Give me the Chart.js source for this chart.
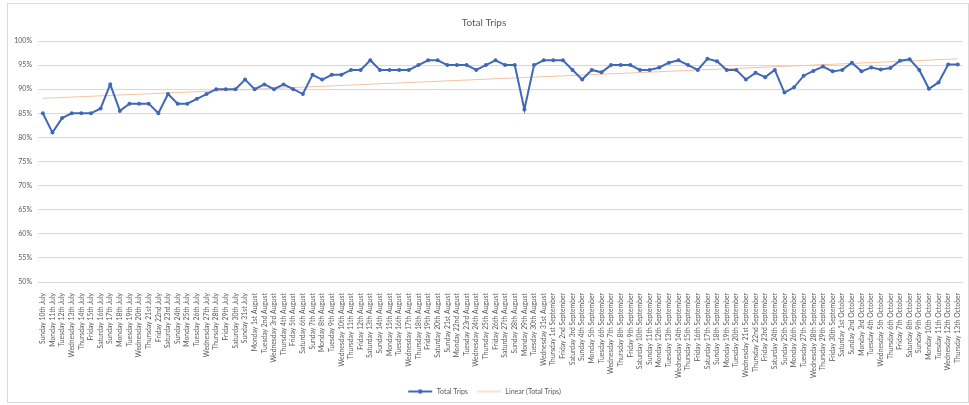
<!DOCTYPE html>
<html>
<head>
<meta charset="utf-8">
<script src="https://cdn.jsdelivr.net/npm/chart.js@4/dist/chart.umd.min.js"></script>
<style>
  html, body { margin: 0; padding: 0; background: #fff; }
  #wrap { position: relative; width: 969px; height: 405px; }
  #frame { position: absolute; left: 7px; top: 3px; width: 960px; height: 398px; border: 1px solid #d9d9d9; pointer-events: none; }
</style>
</head>
<body>
<div id="wrap">
  <canvas id="grafico" width="969" height="405"></canvas>
  <div id="frame"></div>
</div>
<script>
// categorias (dias)
const dias = [
  'Sunday 10th July','Monday 11th July','Tuesday 12th July','Wednesday 13th July','Thursday 14th July','Friday 15th July','Saturday 16th July',
  'Sunday 17th July','Monday 18th July','Tuesday 19th July','Wednesday 20th July','Thursday 21st July','Friday 22nd July','Saturday 23rd July',
  'Sunday 24th July','Monday 25th July','Tuesday 26th July','Wednesday 27th July','Thursday 28th July','Friday 29th July','Saturday 30th July',
  'Sunday 31st July','Monday 1st August','Tuesday 2nd August','Wednesday 3rd August','Thursday 4th August','Friday 5th August','Saturday 6th August',
  'Sunday 7th August','Monday 8th August','Tuesday 9th August','Wednesday 10th August','Thursday 11th August','Friday 12th August','Saturday 13th August',
  'Sunday 14th August','Monday 15th August','Tuesday 16th August','Wednesday 17th August','Thursday 18th August','Friday 19th August','Saturday 20th August',
  'Sunday 21st August','Monday 22nd August','Tuesday 23rd August','Wednesday 24th August','Thursday 25th August','Friday 26th August','Saturday 27th August',
  'Sunday 28th August','Monday 29th August','Tuesday 30th August','Wednesday 31st August','Thursday 1st September','Friday 2nd September','Saturday 3rd September',
  'Sunday 4th September','Monday 5th September','Tuesday 6th September','Wednesday 7th September','Thursday 8th September','Friday 9th September','Saturday 10th September',
  'Sunday 11th September','Monday 12th September','Tuesday 13th September','Wednesday 14th September','Thursday 15th September','Friday 16th September','Saturday 17th September',
  'Sunday 18th September','Monday 19th September','Tuesday 20th September','Wednesday 21st September','Thursday 22nd September','Friday 23rd September','Saturday 24th September',
  'Sunday 25th September','Monday 26th September','Tuesday 27th September','Wednesday 28th September','Thursday 29th September','Friday 30th September','Saturday 1st October',
  'Sunday 2nd October','Monday 3rd October','Tuesday 4th October','Wednesday 5th October','Thursday 6th October','Friday 7th October','Saturday 8th October',
  'Sunday 9th October','Monday 10th October','Tuesday 11th October','Wednesday 12th October','Thursday 13th October'
];

// Total Trips (%)
const totalTrips = [
  85, 81, 84, 85, 85, 85, 86, 91, 85.5, 87, 87, 87, 85, 89, 87, 87, 88, 89, 90, 90, 90, 92, 90, 91,
  90, 91, 90, 89, 93, 92, 93, 93, 94, 94, 96, 94, 94, 94, 94, 95, 96, 96, 95, 95, 95, 94, 95, 96,
  95, 95, 85.8, 95, 96, 96, 96, 94, 92, 94, 93.5, 95, 95, 95, 94, 94, 94.5, 95.5, 96, 95, 94, 96.3, 95.8, 94,
  94, 92, 93.4, 92.5, 94, 89.3, 90.4, 92.8, 93.8, 94.7, 93.7, 94, 95.5, 93.7, 94.5, 94.1, 94.4, 95.9, 96.2, 94, 90.1, 91.4, 95.1, 95.1
];

// Linear (Total Trips): valores lidos no início e no fim
const tendencia = [88.1, 96.3];

const yTicks = [50, 55, 60, 65, 70, 75, 80, 85, 90, 95, 100];

const AZUL = '#4068B8';
const LARANJA = '#F6C3A0';
const CINZA = '#595959';
const FONTE = 'Lato, "Liberation Sans", sans-serif';

const ultimo = dias.length - 1;
const tendData = dias.map((d, i) => i === 0 ? tendencia[0] : (i === ultimo ? tendencia[1] : null));

// ícones da legenda
function iconeLegenda(cor, comPonto, largura) {
  const c = document.createElement('canvas');
  c.width = 26; c.height = 8;
  const ctx = c.getContext('2d');
  ctx.strokeStyle = cor; ctx.lineWidth = largura;
  ctx.beginPath(); ctx.moveTo(1, 4); ctx.lineTo(25, 4); ctx.stroke();
  if (comPonto) { ctx.fillStyle = cor; ctx.beginPath(); ctx.arc(13, 4, 2.3, 0, Math.PI * 2); ctx.fill(); }
  return c;
}
const iconeTrips = iconeLegenda(AZUL, true, 2);
const iconeLinear = iconeLegenda(LARANJA, false, 1);

new Chart(document.getElementById('grafico').getContext('2d'), {
  type: 'line',
  data: {
    labels: dias,
    datasets: [
      { label: 'Total Trips', data: totalTrips, borderColor: AZUL, backgroundColor: AZUL, borderWidth: 2,
        pointRadius: 2, pointBackgroundColor: AZUL, pointBorderColor: AZUL, pointBorderWidth: 0, tension: 0,
        pointStyle: 'circle', order: 1 },
      { label: 'Linear (Total Trips)', data: tendData, borderColor: LARANJA, backgroundColor: LARANJA, borderWidth: 1,
        pointRadius: 0, spanGaps: true, tension: 0, order: 2 }
    ]
  },
  options: {
    responsive: false,
    animation: false,
    layout: { padding: { left: 0, right: 1, top: 0, bottom: 0 } },
    plugins: {
      title: { display: true, text: 'Total Trips', color: CINZA, font: { family: FONTE, size: 10, weight: 'normal' }, padding: { top: 17, bottom: 12 } },
      legend: {
        position: 'bottom',
        labels: {
          color: CINZA, font: { family: FONTE, size: 7 }, padding: 8, usePointStyle: true, pointStyleWidth: 26, boxHeight: 7,
          generateLabels: () => [
            { text: 'Total Trips', pointStyle: iconeTrips, fontColor: CINZA, datasetIndex: 0, lineWidth: 0, strokeStyle: 'transparent', fillStyle: 'transparent' },
            { text: 'Linear (Total Trips)', pointStyle: iconeLinear, fontColor: CINZA, datasetIndex: 1, lineWidth: 0, strokeStyle: 'transparent', fillStyle: 'transparent' }
          ]
        }
      },
      tooltip: { enabled: false }
    },
    scales: {
      x: {
        offset: true,
        grid: { display: false },
        border: { display: true, color: '#d9d9d9' },
        ticks: { autoSkip: false, maxRotation: 90, minRotation: 90, color: CINZA, font: { family: FONTE, size: 6.8 }, padding: 3 },
        afterFit: s => { s.height = 98; }
      },
      y: {
        min: 50, max: 100,
        afterBuildTicks: s => { s.ticks = yTicks.map(v => ({ value: v })); },
        grid: { color: '#d9d9d9', lineWidth: 1, drawTicks: false },
        border: { display: false },
        ticks: { color: CINZA, font: { family: FONTE, size: 7 }, padding: 6, callback: v => v + '%' },
        afterFit: s => { s.width = 38; }
      }
    }
  }
});
</script>
</body>
</html>
